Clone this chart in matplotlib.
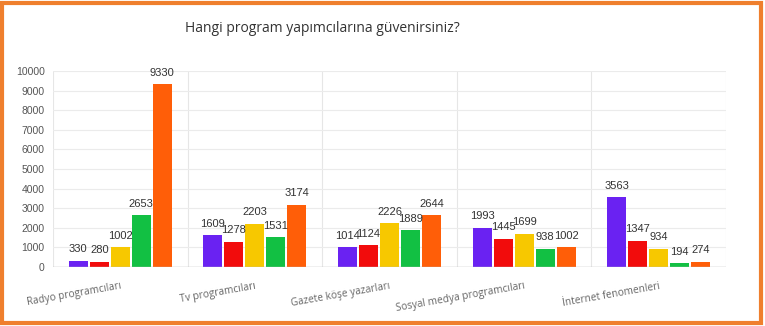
import matplotlib
matplotlib.use("Agg")
import matplotlib.pyplot as plt
import numpy as np
from matplotlib.patches import Rectangle

categories = ["Radyo programcıları", "Tv programcıları", "Gazete köşe yazarları",
              "Sosyal medya programcıları", "İnternet fenomenleri"]
series_1 = [330, 1609, 1014, 1993, 3563]
series_2 = [280, 1278, 1124, 1445, 1347]
series_3 = [1002, 2203, 2226, 1699, 934]
series_4 = [2653, 1531, 1889, 938, 194]
series_5 = [9330, 3174, 2644, 1002, 274]
yticks = [0, 1000, 2000, 3000, 4000, 5000, 6000, 7000, 8000, 9000, 10000]

series = [series_1, series_2, series_3, series_4, series_5]
colors = ["#6A22F2", "#F20C0C", "#F7C800", "#12C043", "#FF5E08"]

plt.rcParams["font.family"] = ["Liberation Sans", "DejaVu Sans"]

fig = plt.figure(figsize=(7.65, 3.26), dpi=100)
ax = fig.add_axes([53/765, 1-267/326, (726-53)/765, (267-71)/326])

n = len(series)
x = np.arange(len(categories))
group = 0.78
w = group / n
for i, (vals, c) in enumerate(zip(series, colors)):
    pos = x - group/2 + w*(i+0.5)
    ax.bar(pos, vals, width=w*0.9, color=c, zorder=3)
    for p, v in zip(pos, vals):
        ax.text(p, v + 330, str(v), ha="center", va="bottom", fontsize=8,
                color="#333333", zorder=4)

ax.set_xlim(-0.5, len(categories) - 0.5)
ax.set_ylim(0, 10000)
ax.set_yticks(yticks)
ax.set_yticklabels([str(t) for t in yticks], fontsize=7.5, color="#555555")
ax.tick_params(axis="y", length=0, pad=6)

# category boundary lines
ax.set_xticks(np.arange(-0.5, len(categories) + 0.5, 1), minor=True)
ax.set_xticks([])
ax.grid(True, which="minor", axis="x", color="#e6e6e6", lw=0.8, zorder=0)
ax.grid(True, which="major", axis="y", color="#ebebeb", lw=0.8, zorder=0)
ax.tick_params(axis="x", which="both", length=0)

for sp in ax.spines.values():
    sp.set_visible(False)
ax.axhline(0, color="#bdbdbd", lw=1.0, zorder=4)

for xi, lab in zip(x, categories):
    ax.text(xi, -700, lab, rotation=10, ha="right", va="top", fontsize=7.3,
            color="#666666", rotation_mode="anchor",
            family=["Open Sans", "DejaVu Sans"])

fig.text(185/765, 1-28/326, "Hangi program yapımcılarına güvenirsiniz?",
         fontsize=10, color="#333333", va="center", ha="left",
         family=["Open Sans", "DejaVu Sans"])

# orange frame
fig.patches.append(Rectangle((2/765, 3/326), 759/765, 320/326, transform=fig.transFigure,
                             fill=False, edgecolor="#EF7F2D", lw=3))

fig.savefig("out.png", dpi=100)
